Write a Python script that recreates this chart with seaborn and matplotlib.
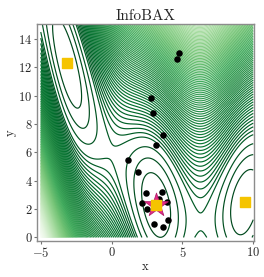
import numpy as np
import pandas as pd
import matplotlib
matplotlib.use("Agg")
import matplotlib.pyplot as plt
import seaborn as sns

# Branin domain
x_range = [-5.0, 10.0]
y_range = [0.0, 15.0]

# queried points
query_x = [4.76, 4.59, 2.78, 2.95, 3.63, 3.16, 1.14, 1.87, 2.41, 3.54,
           2.12, 2.50, 3.93, 3.35, 4.00, 2.99, 3.63]
query_y = [13.04, 12.61, 9.87, 8.79, 7.26, 6.55, 5.47, 4.65, 3.17, 3.24,
           2.42, 2.00, 2.47, 2.70, 1.22, 0.94, 0.75]

# global minima of Branin
min_x = [-np.pi, np.pi, 9.42478]
min_y = [12.275, 2.275, 2.475]

# estimated argmin (star)
est_x = [np.pi]
est_y = [2.275]


def branin(x, y):
    b = 5.1 / (4 * np.pi ** 2)
    c = 5 / np.pi
    t = 1 / (8 * np.pi)
    return (y - b * x ** 2 + c * x - 6) ** 2 + 10 * (1 - t) * np.cos(x) + 10


sns.set_theme(style="white")
plt.rcParams["font.family"] = ["cmr10"]
plt.rcParams["mathtext.fontset"] = "cm"
plt.rcParams["axes.formatter.use_mathtext"] = True
plt.rcParams["axes.unicode_minus"] = True

xs = np.linspace(x_range[0], x_range[1], 400)
ys = np.linspace(y_range[0], y_range[1], 400)
X, Y = np.meshgrid(xs, ys)
Z = branin(X, Y)

fig = plt.figure(figsize=(2.64, 2.77), dpi=100)
ax = fig.add_axes([0.141, 0.131, 0.821, 0.782])

# coarse rings near the minima, finer lines higher up
levels = np.concatenate([np.arange(0, 20, 5), np.arange(20, Z.max() + 2.5, 2.5)])
ax.contour(X, Y, Z, levels=levels, cmap="Greens_r", linewidths=0.85)

df = pd.DataFrame({"x": query_x, "y": query_y})
sns.scatterplot(data=df, x="x", y="y", color="black", s=22, edgecolor="black",
                linewidth=0, ax=ax, zorder=3)

ax.scatter(est_x, est_y, marker="*", s=320, color="#e8298a",
           edgecolor="#b0206a", linewidth=0.6, zorder=4)
ax.scatter(min_x, min_y, marker="s", s=55, color="#f5c400", zorder=5)

ax.set_xlim(-5.25, 10.05)
ax.set_ylim(-0.23, 15.05)
ax.set_xticks([-5, 0, 5, 10])
ax.set_yticks([0, 2, 4, 6, 8, 10, 12, 14])
ax.set_title("InfoBAX", fontsize=11, pad=3)
ax.set_xlabel("x", fontsize=9, labelpad=1)
ax.set_ylabel("y", fontsize=9, labelpad=1)
ax.tick_params(axis="both", labelsize=9, length=2.5, width=0.8, pad=1,
               left=True, bottom=True, color="0.45")
for sp in ax.spines.values():
    sp.set_color("0.55")
    sp.set_linewidth(1.0)

fig.savefig("out.png", dpi=100)
